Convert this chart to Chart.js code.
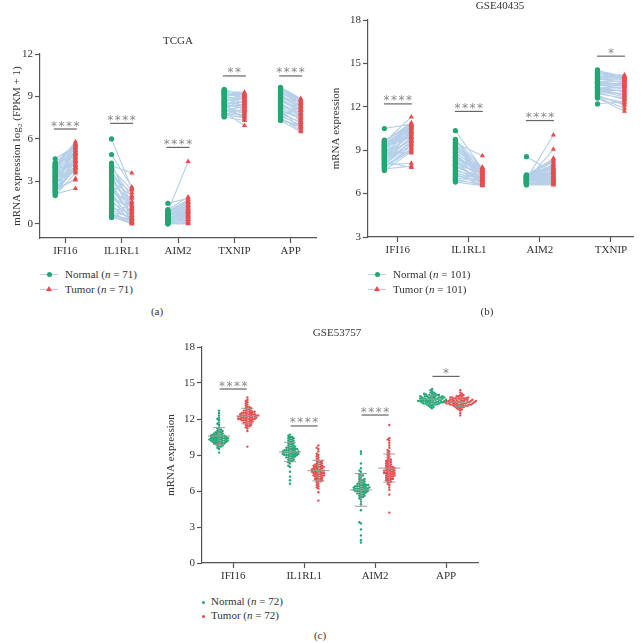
<!DOCTYPE html>
<html>
<head>
<meta charset="UTF-8">
<title>IFI16 / IL1RL1 / AIM2 expression</title>
<script src="https://cdn.jsdelivr.net/npm/chart.js"></script>
<style>
  body { margin: 0; background: #fff; font-family: 'Liberation Serif', 'Times New Roman', serif; color: #333; }
  #page { position: relative; width: 644px; height: 643px; overflow: hidden; }
  canvas { position: absolute; }
  .txt { position: absolute; font-size: 11px; white-space: nowrap; transform: translate(-50%, -50%); }
  .leg { position: absolute; font-size: 11px; white-space: nowrap; transform: translateY(-50%); line-height: 14px; }
  .sym { display: inline-block; position: relative; width: 18px; height: 14px; margin-right: 7px; vertical-align: top; }
  .sym .ln { position: absolute; left: 0; right: 0; top: 7px; height: 1px; background: #b7cfe8; }
  .sym .dot { position: absolute; left: 6.5px; top: 4.5px; width: 5px; height: 5px; border-radius: 50%; background: #22a673; }
  .sym .tri { position: absolute; left: 6px; top: 4px; width: 0; height: 0; border-left: 3px solid transparent; border-right: 3px solid transparent; border-bottom: 5px solid #e84c4c; }
  .dotc { display: inline-block; width: 3px; height: 3px; border-radius: 50%; margin: 0 6px 0 -2px; vertical-align: middle; }
</style>
</head>
<body>
<div id="page">
  <canvas id="tcga" width="322" height="260" style="left:0;top:0"></canvas>
  <canvas id="gse40435" width="322" height="259" style="left:322px;top:0"></canvas>
  <canvas id="gse53757" width="360" height="265" style="left:140px;top:320px"></canvas>

  <div class="txt" style="left:178px;top:40px">TCGA</div>
  <div class="txt" style="left:500px;top:5px">GSE40435</div>
  <div class="txt" style="left:337px;top:332px">GSE53757</div>

  <div class="leg" style="left:40px;top:274px"><span class="sym"><span class="ln"></span><span class="dot"></span></span>Normal (<i>n</i> = 71)</div>
  <div class="leg" style="left:40px;top:289px"><span class="sym"><span class="ln"></span><span class="tri"></span></span>Tumor (<i>n</i> = 71)</div>
  <div class="leg" style="left:368px;top:274px"><span class="sym"><span class="ln"></span><span class="dot"></span></span>Normal (<i>n</i> = 101)</div>
  <div class="leg" style="left:368px;top:289px"><span class="sym"><span class="ln"></span><span class="tri"></span></span>Tumor (<i>n</i> = 101)</div>
  <div class="leg" style="left:204px;top:601px"><span class="dotc" style="background:#22a673"></span>Normal (<i>n</i> = 72)</div>
  <div class="leg" style="left:204px;top:615px"><span class="dotc" style="background:#e84c4c"></span>Tumor (<i>n</i> = 72)</div>

  <div class="txt" style="left:157px;top:311px">(a)</div>
  <div class="txt" style="left:487px;top:311px">(b)</div>
  <div class="txt" style="left:320px;top:635px">(c)</div>
</div>
<script>
  // ---- (a) TCGA, paired samples ----
  const tcgaGenes = ['IFI16', 'IL1RL1', 'AIM2', 'TXNIP', 'APP'];
  const tcgaSig = ['****', '****', '****', '**', '****'];
  const tcgaSigAt = [6.7, 7.1, 5.4, 10.45, 10.45];

  const tcgaIfi16N = [2.0, 2.1, 2.2, 2.3, 2.4, 2.5, 2.5, 2.6, 2.7, 2.8, 2.9, 3.0, 3.0, 3.1, 3.2, 3.3, 3.3, 3.4, 3.5, 3.6, 3.7, 3.8, 3.9, 4.0, 4.0, 4.1, 4.2, 4.3, 4.3, 4.6, 2.3, 2.7, 3.1, 3.4, 3.6, 3.8, 4.1, 2.9];
  const tcgaIfi16T = [3.6, 2.5, 3.9, 3.2, 4.1, 3.1, 4.4, 3.8, 4.6, 4.0, 4.8, 4.3, 3.7, 5.0, 4.5, 4.7, 5.2, 4.9, 5.4, 4.4, 5.1, 5.5, 4.2, 5.6, 5.3, 5.8, 4.9, 5.7, 5.0, 5.5, 4.0, 4.5, 4.7, 5.0, 5.2, 5.4, 5.6, 4.1];
  const tcgaIl1rl1N = [0.45, 0.5, 0.6, 0.7, 0.8, 0.9, 1.0, 1.1, 1.3, 1.4, 1.5, 1.7, 1.8, 2.0, 2.1, 2.3, 2.4, 2.6, 2.7, 2.9, 3.0, 3.2, 3.4, 3.5, 3.7, 3.9, 4.1, 4.3, 4.9, 6.0, 0.6, 1.2, 1.9, 2.5, 3.1, 3.6, 4.0, 2.2];
  const tcgaIl1rl1T = [0.1, 0.0, 0.3, 0.2, 0.5, 0.0, 0.4, 0.8, 0.2, 1.0, 0.6, 0.1, 1.2, 0.9, 0.3, 1.5, 0.7, 1.1, 1.8, 0.4, 2.0, 1.3, 2.2, 0.6, 1.6, 2.4, 3.6, 1.0, 2.6, 2.5, 0.1, 0.3, 0.5, 0.8, 1.1, 1.4, 1.9, 0.2];
  const tcgaAim2N = [0.0, 0.0, 0.05, 0.1, 0.1, 0.15, 0.2, 0.2, 0.25, 0.3, 0.3, 0.35, 0.4, 0.4, 0.45, 0.5, 0.5, 0.55, 0.6, 0.6, 0.65, 0.7, 0.7, 0.75, 0.8, 0.85, 0.9, 0.95, 1.0, 1.45, 0.1, 0.2, 0.3, 0.4, 0.5, 0.6, 0.7, 0.8];
  const tcgaAim2T = [0.0, 0.1, 0.05, 0.3, 0.2, 0.5, 0.15, 0.6, 0.4, 0.8, 0.3, 0.9, 0.7, 1.0, 0.5, 1.1, 0.6, 1.2, 0.9, 1.3, 0.8, 1.4, 1.5, 1.0, 1.6, 4.4, 1.7, 1.2, 1.9, 1.8, 0.3, 0.5, 0.7, 0.9, 1.1, 1.3, 1.5, 1.7];
  const tcgaTxnipN = [7.55, 7.6, 7.7, 7.75, 7.8, 7.9, 8.0, 8.05, 8.1, 8.2, 8.3, 8.35, 8.4, 8.5, 8.6, 8.65, 8.7, 8.8, 8.85, 8.9, 9.0, 9.05, 9.1, 9.2, 9.25, 9.3, 9.35, 9.4, 9.45, 9.5, 7.65, 7.95, 8.25, 8.55, 8.75, 9.15, 9.4, 8.45];
  const tcgaTxnipT = [7.3, 7.9, 7.5, 8.1, 7.7, 6.95, 8.3, 7.6, 8.0, 8.5, 7.8, 8.2, 8.7, 7.4, 8.4, 8.9, 8.1, 8.6, 9.0, 8.3, 8.8, 9.1, 8.5, 9.2, 7.9, 8.9, 9.3, 8.7, 9.1, 9.0, 7.6, 8.0, 8.4, 8.6, 8.8, 9.1, 9.2, 8.2];
  const tcgaAppN = [7.3, 7.35, 7.5, 7.6, 7.7, 7.8, 7.9, 8.0, 8.1, 8.2, 8.3, 8.35, 8.4, 8.5, 8.6, 8.7, 8.75, 8.8, 8.9, 9.0, 9.05, 9.1, 9.2, 9.3, 9.35, 9.4, 9.5, 9.55, 9.6, 9.65, 7.4, 7.75, 8.05, 8.45, 8.65, 8.95, 9.25, 9.45];
  const tcgaAppT = [6.5, 6.8, 6.6, 7.0, 6.9, 7.2, 7.1, 7.4, 6.7, 7.5, 7.3, 7.7, 7.6, 7.8, 7.2, 8.0, 7.9, 8.1, 7.7, 8.3, 8.2, 8.4, 8.0, 8.5, 8.6, 8.3, 8.7, 8.8, 8.5, 8.85, 6.9, 7.2, 7.5, 7.8, 8.0, 8.2, 8.5, 8.7];

  // ---- (b) GSE40435, paired samples ----
  const g40Genes = ['IFI16', 'IL1RL1', 'AIM2', 'TXNIP'];
  const g40Sig = ['****', '****', '****', '*'];
  const g40SigAt = [12.2, 11.68, 11.05, 15.5];

  const g40Ifi16N = [7.6, 7.7, 7.8, 7.9, 8.0, 8.05, 8.1, 8.2, 8.3, 8.35, 8.4, 8.5, 8.55, 8.6, 8.7, 8.75, 8.8, 8.9, 9.0, 9.05, 9.1, 9.2, 9.3, 9.35, 9.4, 9.5, 9.55, 9.6, 9.7, 10.5, 7.8, 8.0, 8.2, 8.4, 8.6, 8.8, 9.0, 9.2, 9.4, 9.6, 8.5, 8.9];
  const g40Ifi16T = [8.9, 7.9, 9.3, 9.1, 8.1, 9.6, 9.4, 7.8, 9.8, 9.5, 9.9, 10.1, 9.2, 10.2, 9.7, 10.4, 10.0, 8.8, 10.5, 10.3, 10.6, 9.9, 10.7, 10.4, 10.8, 10.6, 11.3, 10.9, 10.7, 10.8, 9.0, 9.4, 9.6, 9.9, 10.1, 10.3, 10.5, 10.6, 10.7, 10.8, 9.7, 10.2];
  const g40Il1rl1N = [6.8, 6.9, 7.0, 7.1, 7.2, 7.3, 7.4, 7.5, 7.6, 7.7, 7.8, 7.9, 8.0, 8.1, 8.2, 8.3, 8.4, 8.5, 8.6, 8.7, 8.8, 8.9, 9.0, 9.1, 9.2, 9.3, 9.5, 9.6, 9.75, 10.35, 7.0, 7.3, 7.6, 7.9, 8.2, 8.5, 8.8, 9.1, 9.4, 9.7, 8.0, 8.6];
  const g40Il1rl1T = [6.55, 6.7, 6.6, 6.8, 6.9, 6.6, 7.0, 6.7, 7.1, 6.8, 7.2, 6.9, 7.0, 7.3, 6.75, 7.1, 7.4, 7.0, 7.5, 7.2, 7.6, 7.3, 7.7, 7.4, 7.8, 7.5, 8.62, 7.6, 7.8, 7.7, 6.6, 6.8, 7.0, 7.1, 7.3, 7.4, 7.5, 7.6, 7.7, 7.8, 6.9, 7.2];
  const g40Aim2N = [6.6, 6.65, 6.7, 6.7, 6.75, 6.8, 6.8, 6.85, 6.9, 6.9, 6.95, 7.0, 7.0, 7.05, 7.05, 7.1, 7.1, 7.15, 7.15, 7.2, 7.2, 7.25, 7.25, 7.3, 6.75, 6.9, 7.0, 7.1, 7.2, 8.55, 6.7, 6.8, 6.9, 7.0, 7.1, 7.2, 7.25, 6.75, 6.85, 6.95, 7.05, 7.15];
  const g40Aim2T = [6.6, 6.7, 6.8, 6.65, 6.9, 7.0, 6.75, 7.1, 6.85, 7.2, 7.0, 7.3, 6.9, 7.5, 7.1, 7.6, 7.2, 7.8, 7.4, 7.9, 8.0, 7.7, 8.2, 8.4, 8.1, 9.06, 10.05, 8.44, 8.3, 7.5, 6.8, 7.0, 7.2, 7.4, 7.6, 7.8, 8.0, 6.9, 7.1, 7.3, 7.5, 7.7];
  const g40TxnipN = [12.2, 12.6, 12.65, 12.7, 12.8, 12.9, 13.0, 13.05, 13.1, 13.2, 13.3, 13.35, 13.4, 13.5, 13.55, 13.6, 13.7, 13.75, 13.8, 13.9, 13.95, 14.0, 14.1, 14.15, 14.2, 14.3, 14.35, 14.4, 14.5, 14.55, 12.7, 12.9, 13.1, 13.3, 13.5, 13.7, 13.9, 14.1, 14.3, 14.5, 13.2, 13.6];
  const g40TxnipT = [12.4, 11.7, 11.9, 12.3, 12.1, 12.6, 12.5, 12.9, 12.7, 13.1, 12.8, 13.3, 13.0, 13.5, 13.2, 13.6, 13.4, 13.8, 13.5, 13.9, 13.7, 14.0, 13.6, 14.1, 13.9, 14.2, 13.8, 14.0, 14.1, 13.9, 12.2, 12.6, 12.9, 13.1, 13.3, 13.5, 13.7, 13.9, 14.0, 14.1, 12.8, 13.4];

  // ---- (c) GSE53757, unpaired ----
  const g53Genes = ['IFI16', 'IL1RL1', 'AIM2', 'APP'];
  const g53Sig = ['****', '****', '****', '*'];
  const g53SigAt = [14.5, 11.42, 12.33, 15.55];

  const g53Ifi16N = [9.2, 9.5, 9.6, 9.7, 9.7, 9.8, 9.8, 9.9, 9.9, 9.9, 10.0, 10.0, 10.0, 10.0, 10.1, 10.1, 10.1, 10.1, 10.1, 10.2, 10.2, 10.2, 10.2, 10.2, 10.3, 10.3, 10.3, 10.3, 10.3, 10.3, 10.4, 10.4, 10.4, 10.4, 10.4, 10.4, 10.5, 10.5, 10.5, 10.5, 10.5, 10.6, 10.6, 10.6, 10.6, 10.6, 10.7, 10.7, 10.7, 10.7, 10.8, 10.8, 10.8, 10.9, 10.9, 10.9, 11.0, 11.0, 11.1, 11.1, 11.2, 11.3, 11.5, 11.6, 11.7, 11.9, 12.0, 12.1, 12.3, 12.5, 12.7, 10.2];
  const g53Ifi16T = [9.7, 11.0, 11.2, 11.3, 11.4, 11.5, 11.5, 11.6, 11.6, 11.7, 11.7, 11.7, 11.8, 11.8, 11.8, 11.9, 11.9, 11.9, 11.9, 12.0, 12.0, 12.0, 12.0, 12.0, 12.1, 12.1, 12.1, 12.1, 12.1, 12.2, 12.2, 12.2, 12.2, 12.2, 12.2, 12.3, 12.3, 12.3, 12.3, 12.3, 12.4, 12.4, 12.4, 12.4, 12.4, 12.5, 12.5, 12.5, 12.5, 12.6, 12.6, 12.6, 12.6, 12.7, 12.7, 12.7, 12.8, 12.8, 12.9, 12.9, 13.0, 13.0, 13.1, 13.2, 13.3, 13.4, 13.5, 13.6, 13.8, 11.4, 12.0, 12.3];
  const g53Il1rl1N = [6.6, 6.9, 7.2, 7.6, 8.0, 8.1, 8.3, 8.4, 8.5, 8.5, 8.6, 8.6, 8.7, 8.7, 8.8, 8.8, 8.8, 8.9, 8.9, 8.9, 9.0, 9.0, 9.0, 9.0, 9.1, 9.1, 9.1, 9.1, 9.1, 9.2, 9.2, 9.2, 9.2, 9.2, 9.3, 9.3, 9.3, 9.3, 9.3, 9.4, 9.4, 9.4, 9.4, 9.5, 9.5, 9.5, 9.5, 9.6, 9.6, 9.6, 9.7, 9.7, 9.7, 9.8, 9.8, 9.9, 9.9, 10.0, 10.0, 10.1, 10.1, 10.2, 10.2, 10.3, 10.3, 10.4, 10.4, 10.5, 10.5, 10.6, 10.7, 9.0];
  const g53Il1rl1T = [5.2, 5.9, 6.2, 6.4, 6.5, 6.6, 6.7, 6.8, 6.9, 6.9, 7.0, 7.0, 7.1, 7.1, 7.2, 7.2, 7.2, 7.3, 7.3, 7.3, 7.4, 7.4, 7.4, 7.5, 7.5, 7.5, 7.5, 7.6, 7.6, 7.6, 7.6, 7.7, 7.7, 7.7, 7.7, 7.8, 7.8, 7.8, 7.8, 7.9, 7.9, 7.9, 8.0, 8.0, 8.0, 8.1, 8.1, 8.1, 8.2, 8.2, 8.3, 8.3, 8.4, 8.4, 8.5, 8.5, 8.6, 8.7, 8.8, 8.9, 9.0, 9.1, 9.3, 9.5, 9.6, 9.8, 6.3, 6.8, 7.0, 7.3, 8.2, 8.0];
  const g53Aim2N = [1.7, 1.9, 2.3, 2.8, 3.3, 3.4, 4.4, 4.9, 5.1, 5.3, 5.4, 5.5, 5.6, 5.6, 5.7, 5.7, 5.8, 5.8, 5.8, 5.9, 5.9, 5.9, 6.0, 6.0, 6.0, 6.0, 6.1, 6.1, 6.1, 6.1, 6.2, 6.2, 6.2, 6.2, 6.2, 6.3, 6.3, 6.3, 6.3, 6.4, 6.4, 6.4, 6.4, 6.5, 6.5, 6.5, 6.6, 6.6, 6.6, 6.7, 6.7, 6.8, 6.8, 6.9, 6.9, 7.0, 7.0, 7.1, 7.2, 7.3, 7.3, 7.4, 7.6, 7.7, 7.9, 8.3, 9.1, 9.3, 6.0, 6.3, 6.5, 5.5];
  const g53Aim2T = [4.2, 5.7, 6.1, 6.3, 6.5, 6.6, 6.7, 6.8, 6.9, 6.9, 7.0, 7.0, 7.1, 7.1, 7.2, 7.2, 7.3, 7.3, 7.3, 7.4, 7.4, 7.4, 7.5, 7.5, 7.5, 7.6, 7.6, 7.6, 7.7, 7.7, 7.7, 7.8, 7.8, 7.8, 7.9, 7.9, 7.9, 8.0, 8.0, 8.1, 8.1, 8.2, 8.2, 8.3, 8.3, 8.4, 8.4, 8.5, 8.5, 8.6, 8.7, 8.8, 8.9, 9.0, 9.1, 9.2, 9.3, 9.4, 9.6, 9.8, 10.0, 10.2, 10.3, 10.4, 11.5, 6.8, 7.0, 7.2, 7.5, 7.7, 8.0, 8.6];
  const g53AppN = [12.9, 13.0, 13.1, 13.1, 13.2, 13.2, 13.2, 13.3, 13.3, 13.3, 13.3, 13.4, 13.4, 13.4, 13.4, 13.4, 13.5, 13.5, 13.5, 13.5, 13.5, 13.5, 13.6, 13.6, 13.6, 13.6, 13.6, 13.6, 13.6, 13.7, 13.7, 13.7, 13.7, 13.7, 13.7, 13.8, 13.8, 13.8, 13.8, 13.8, 13.9, 13.9, 13.9, 13.9, 14.0, 14.0, 14.0, 14.1, 14.1, 14.2, 14.2, 14.3, 14.4, 14.5, 13.0, 13.2, 13.3, 13.4, 13.45, 13.55, 13.65, 13.75, 13.35, 13.95, 13.8, 13.9, 14.0, 14.1, 13.25, 13.45, 13.85, 14.05];
  const g53AppT = [12.3, 12.5, 12.7, 12.8, 12.9, 12.9, 13.0, 13.0, 13.0, 13.1, 13.1, 13.1, 13.1, 13.2, 13.2, 13.2, 13.2, 13.2, 13.3, 13.3, 13.3, 13.3, 13.3, 13.3, 13.4, 13.4, 13.4, 13.4, 13.4, 13.4, 13.4, 13.5, 13.5, 13.5, 13.5, 13.5, 13.5, 13.6, 13.6, 13.6, 13.6, 13.6, 13.7, 13.7, 13.7, 13.7, 13.8, 13.8, 13.8, 13.9, 13.9, 14.0, 14.0, 14.1, 14.2, 14.4, 12.8, 13.0, 13.1, 13.2, 13.3, 13.4, 13.5, 13.6, 13.7, 13.8, 13.9, 13.15, 13.25, 13.45, 13.55, 13.75];

  const green = '#22a673', red = '#e84c4c', pairBlue = '#b7cfe8', axisGrey = '#555';
  const serif = "'Liberation Serif', 'Times New Roman', serif";

  // significance bar + stars above each gene
  function sigPlugin(labels, at, halfPx) {
    return {
      id: 'sig',
      afterDatasetsDraw(chart) {
        const { ctx, scales: { x, y } } = chart;
        ctx.save();
        labels.forEach((lab, i) => {
          const cx = x.getPixelForValue(i), py = y.getPixelForValue(at[i]);
          ctx.strokeStyle = '#666';
          ctx.lineWidth = 1.2;
          ctx.beginPath();
          ctx.moveTo(cx - halfPx, py);
          ctx.lineTo(cx + halfPx, py);
          ctx.stroke();
          ctx.fillStyle = '#888';
          ctx.font = "12px 'DejaVu Sans'";
          ctx.textAlign = 'center';
          ctx.textBaseline = 'alphabetic';
          ctx.letterSpacing = '1.5px';
          ctx.fillText(lab, cx + 0.7, py + 0.5);
        });
        ctx.restore();
      }
    };
  }

  function axes(o) {
    return {
      x: {
        type: 'linear', min: o.xMin, max: o.xMax,
        afterBuildTicks: s => { s.ticks = o.genes.map((g, i) => ({ value: i })); },
        afterFit: s => { s.height = 22; },
        ticks: { callback: v => o.genes[v], font: { family: serif, size: 11 }, color: '#333', padding: 2, maxRotation: 0, autoSkip: false },
        grid: { display: true, drawOnChartArea: false, tickLength: 5, color: axisGrey, tickWidth: 1.2 },
        border: { display: true, color: axisGrey, width: 1.2 }
      },
      y: {
        min: o.yMin, max: o.yMax,
        afterBuildTicks: s => { s.ticks = o.yTicks.map(v => ({ value: v })); },
        afterFit: s => { s.width = o.yW; },
        title: { display: true, text: o.yTitle, font: { family: serif, size: 11 }, color: '#333', padding: { top: 4, bottom: 4 } },
        ticks: { font: { family: serif, size: 11 }, color: '#333', padding: 2 },
        grid: { display: true, drawOnChartArea: false, tickLength: 5, color: axisGrey, tickWidth: 1.2 },
        border: { display: true, color: axisGrey, width: 1.2 }
      }
    };
  }

  function pairedChart(id, o) {
    const pairs = [], normPts = [], tumPts = [];
    o.genes.forEach((g, i) => {
      o.normal[i].forEach((v, k) => {
        const t = o.tumor[i][k];
        normPts.push({ x: i - o.off, y: v });
        tumPts.push({ x: i + o.off, y: t });
        pairs.push({ x: i - o.off, y: v }, { x: i + o.off, y: t }, { x: i, y: null });
      });
    });
    return new Chart(document.getElementById(id), {
      type: 'scatter',
      data: {
        datasets: [
          { label: 'Tumor', data: tumPts, pointStyle: 'triangle', pointRadius: 3, backgroundColor: red, borderWidth: 0, order: 1 },
          { label: 'Normal', data: normPts, pointStyle: 'circle', pointRadius: 2.6, backgroundColor: green, borderWidth: 0, order: 2 },
          { label: 'pairs', data: pairs, showLine: true, spanGaps: false, borderColor: pairBlue, borderWidth: 1.1, pointRadius: 0, order: 3 }
        ]
      },
      options: {
        responsive: false, animation: false, events: [],
        layout: { padding: o.pad },
        plugins: { legend: { display: false }, tooltip: { enabled: false } },
        scales: axes(o)
      },
      plugins: [sigPlugin(o.sig, o.sigAt, o.sigHalf)]
    });
  }

  // beeswarm offsets, worked out in pixels once the scales exist
  function swarm(chart, d) {
    const x = chart.scales.x, y = chart.scales.y;
    chart.data.datasets.forEach(ds => {
      ds.data = [];
      ds.groups.forEach(grp => {
        const cx = x.getPixelForValue(grp.center);
        const placed = [];
        grp.vals.slice().sort((a, b) => a - b).forEach(v => {
          const py = y.getPixelForValue(v);
          const near = placed.filter(p => Math.abs(p.py - py) < d);
          const cand = [0];
          near.forEach(p => {
            const w = Math.sqrt(d * d - (p.py - py) ** 2);
            cand.push(p.dx - w, p.dx + w);
          });
          cand.sort((a, b) => Math.abs(a) - Math.abs(b));
          const dx = cand.find(c => near.every(p => (p.dx - c) ** 2 + (p.py - py) ** 2 >= d * d - 1e-6));
          placed.push({ dx, py });
          ds.data.push({ x: x.getValueForPixel(cx + dx), y: v });
        });
      });
    });
    chart.update('none');
  }

  const meanSdPlugin = {
    id: 'meanSd',
    afterDatasetsDraw(chart) {
      const { ctx, scales: { x, y } } = chart;
      ctx.save();
      ctx.strokeStyle = '#9a9a9a';
      ctx.lineWidth = 1;
      chart.data.datasets.forEach(ds => ds.groups.forEach(grp => {
        const n = grp.vals.length;
        const m = grp.vals.reduce((a, b) => a + b, 0) / n;
        const sd = Math.sqrt(grp.vals.reduce((a, b) => a + (b - m) ** 2, 0) / (n - 1));
        const cx = x.getPixelForValue(grp.center);
        const pm = y.getPixelForValue(m), p1 = y.getPixelForValue(m + sd), p2 = y.getPixelForValue(m - sd);
        ctx.beginPath();
        ctx.moveTo(cx - 11, pm); ctx.lineTo(cx + 11, pm);
        ctx.moveTo(cx - 6, p1); ctx.lineTo(cx + 6, p1);
        ctx.moveTo(cx - 6, p2); ctx.lineTo(cx + 6, p2);
        ctx.moveTo(cx, p1); ctx.lineTo(cx, p2);
        ctx.stroke();
      }));
      ctx.restore();
    }
  };

  pairedChart('tcga', {
    genes: tcgaGenes,
    normal: [tcgaIfi16N, tcgaIl1rl1N, tcgaAim2N, tcgaTxnipN, tcgaAppN],
    tumor: [tcgaIfi16T, tcgaIl1rl1T, tcgaAim2T, tcgaTxnipT, tcgaAppT],
    sig: tcgaSig, sigAt: tcgaSigAt, sigHalf: 11.5, off: 0.18,
    xMin: -0.45, xMax: 4.45, yMin: -1, yMax: 12, yTicks: [0, 3, 6, 9, 12], yW: 33,
    yTitle: 'mRNA expression log\u2082 (FPKM + 1)',
    pad: { top: 54, left: 7, right: 6, bottom: 0 }
  });

  pairedChart('gse40435', {
    genes: g40Genes,
    normal: [g40Ifi16N, g40Il1rl1N, g40Aim2N, g40TxnipN],
    tumor: [g40Ifi16T, g40Il1rl1T, g40Aim2T, g40TxnipT],
    sig: g40Sig, sigAt: g40SigAt, sigHalf: 14, off: 0.19,
    xMin: -0.42, xMax: 3.31, yMin: 3, yMax: 18, yTicks: [3, 6, 9, 12, 15, 18], yW: 42,
    yTitle: 'mRNA expression',
    pad: { top: 20, left: 4, right: 11, bottom: 0 }
  });

  const g53Normal = [g53Ifi16N, g53Il1rl1N, g53Aim2N, g53AppN];
  const g53Tumor = [g53Ifi16T, g53Il1rl1T, g53Aim2T, g53AppT];
  const g53Opts = {
    genes: g53Genes, xMin: -0.44, xMax: 3.45, yMin: 0, yMax: 18, yTicks: [0, 3, 6, 9, 12, 15, 18], yW: 41,
    yTitle: 'mRNA expression'
  };
  const g53Chart = new Chart(document.getElementById('gse53757'), {
    type: 'scatter',
    data: {
      datasets: [
        { label: 'Normal', groups: g53Normal.map((vals, i) => ({ center: i - 0.2, vals })), data: [], pointRadius: 1.2, backgroundColor: green, borderWidth: 0 },
        { label: 'Tumor', groups: g53Tumor.map((vals, i) => ({ center: i + 0.2, vals })), data: [], pointRadius: 1.2, backgroundColor: red, borderWidth: 0 }
      ]
    },
    options: {
      responsive: false, animation: false, events: [],
      layout: { padding: { top: 27, left: 21, right: 22, bottom: 0 } },
      plugins: { legend: { display: false }, tooltip: { enabled: false } },
      scales: axes(g53Opts)
    },
    plugins: [meanSdPlugin, sigPlugin(g53Sig, g53SigAt, 13.5)]
  });
  swarm(g53Chart, 2.0);
</script>
</body>
</html>
